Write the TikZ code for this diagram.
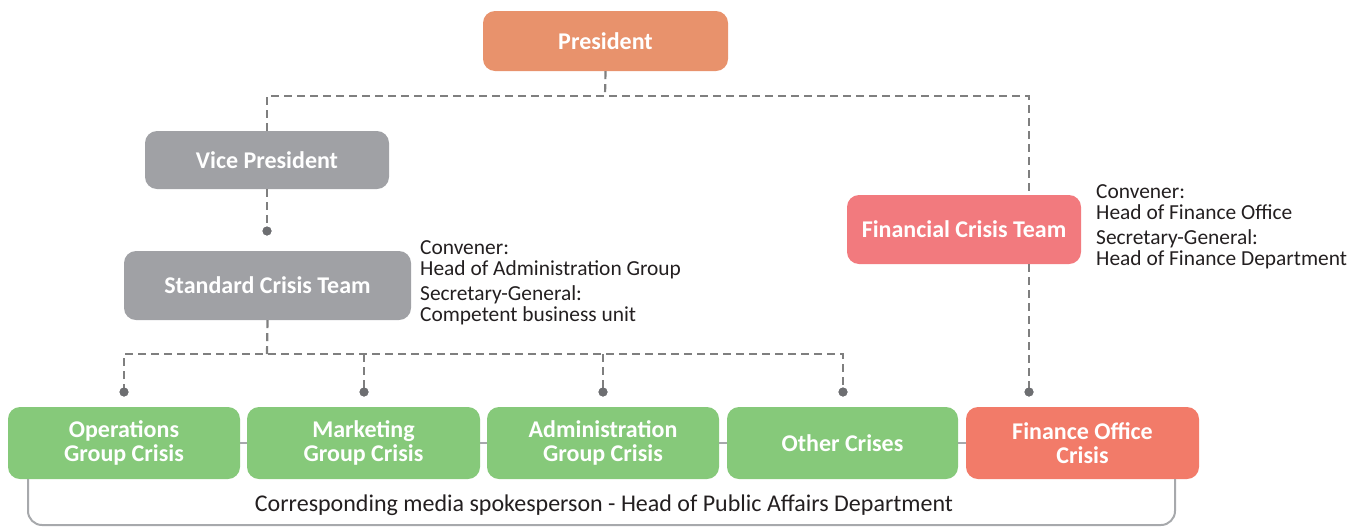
\documentclass[tikz,border=0pt]{standalone}
\usepackage{fontspec}
\setmainfont{Carlito}
\definecolor{presC}{HTML}{E8926C}
\definecolor{grayC}{HTML}{A0A1A5}
\definecolor{fctC}{HTML}{F27A7E}
\definecolor{greenC}{HTML}{86C97A}
\definecolor{finC}{HTML}{F27B69}
\definecolor{dashC}{HTML}{7F7F7F}
\definecolor{dotC}{HTML}{6D6E71}
\definecolor{linkC}{HTML}{A7A9AC}
\definecolor{txtC}{HTML}{231F20}
\tikzset{
  box/.style={rounded corners=12pt, minimum height=#1, text=white, align=center, inner sep=0pt,
    font=\bfseries\fontsize{24}{24}\selectfont},
  dline/.style={draw=dashC, line width=2.2pt, dash pattern=on 8pt off 5pt},
  dotn/.style={circle, fill=dotC, inner sep=0pt, minimum size=9pt},
  link/.style={draw=linkC, line width=2pt},
  note/.style={align=left, inner sep=0pt, text=txtC, font=\fontsize{21.4}{21}\selectfont},
}
\begin{document}
\begin{tikzpicture}[x=1pt,y=-1pt]
\useasboundingbox (0,0) rectangle (1359,528);
% boxes
\node[box=60pt, fill=presC, minimum width=245pt] (pres) at (605.5,41) {President};
\node[box=58pt, fill=grayC, minimum width=244pt] (vp) at (267,160) {Vice President};
\node[box=69pt, fill=grayC, minimum width=287pt] (sct) at (267.5,285.5) {Standard Crisis Team};
\node[box=69pt, fill=fctC, minimum width=234pt] (fct) at (964,229.5) {Financial Crisis Team};
\node[box=72pt, fill=greenC, minimum width=232pt] (ops) at (124,443) {Operations\\Group Crisis};
\node[box=72pt, fill=greenC, minimum width=233pt] (mkt) at (363.5,443) {Marketing\\Group Crisis};
\node[box=72pt, fill=greenC, minimum width=232pt] (adm) at (603,443) {Administration\\Group Crisis};
\node[box=72pt, fill=greenC, minimum width=231pt] (oth) at (842.5,443) {Other Crises};
\node[box=72pt, fill=finC, minimum width=233pt] (fin) at (1082.5,443) {Finance Office\\Crisis};
% notes
\node[note, anchor=west] (n1) at (420,283) {Convener:\\Head of Administration Group\\[4pt]Secretary-General:\\Competent business unit};
\node[note, anchor=west] (n2) at (1096,227) {Convener:\\Head of Finance Office\\[4pt]Secretary-General:\\Head of Finance Department};
\node[note, anchor=center, font=\fontsize{24}{24}\selectfont] (media) at (604,505) {Corresponding media spokesperson - Head of Public Affairs Department};
% coordinates
\coordinate (j1) at (605,96);
\coordinate (ftop) at (1029,195);
\coordinate (j2) at (267,354);
\node[dotn] (d1) at (267,231) {};
\node[dotn] (d2) at (124,392) {};
\node[dotn] (d3) at (364,392) {};
\node[dotn] (d4) at (603,392) {};
\node[dotn] (d5) at (843,392) {};
\node[dotn] (d6) at (1029,392) {};
% dashed connectors
\draw[dline] (pres.south) -- (j1);
\draw[dline] (vp.north) |- (j1) -| (ftop);
\draw[dline] (vp.south) -- (d1.center);
\draw[dline] (sct.south) -- (j2);
\draw[dline] (d2.center) -- (d2 |- j2) -- (d5 |- j2) -- (d5.center);
\draw[dline] (d3 |- j2) -- (d3.center);
\draw[dline] (d4 |- j2) -- (d4.center);
\draw[dline] (d6 |- fct.south) -- (d6.center);
% redraw dots on top
\foreach \d in {d1,d2,d3,d4,d5,d6} \fill[dotC] (\d) circle (4.5pt);
% links between bottom boxes
\draw[link] (ops.east) -- (mkt.west);
\draw[link] (mkt.east) -- (adm.west);
\draw[link] (adm.east) -- (oth.west);
\draw[link] (oth.east) -- (fin.west);
% bracket
\coordinate (b1) at ([xshift=-96pt]ops.south);
\coordinate (b2) at ([xshift=92.5pt]fin.south);
\draw[link, rounded corners=14pt] (b1) -- (b1 |- 0,525) -- (b2 |- 0,525) -- (b2);
\end{tikzpicture}
\end{document}
